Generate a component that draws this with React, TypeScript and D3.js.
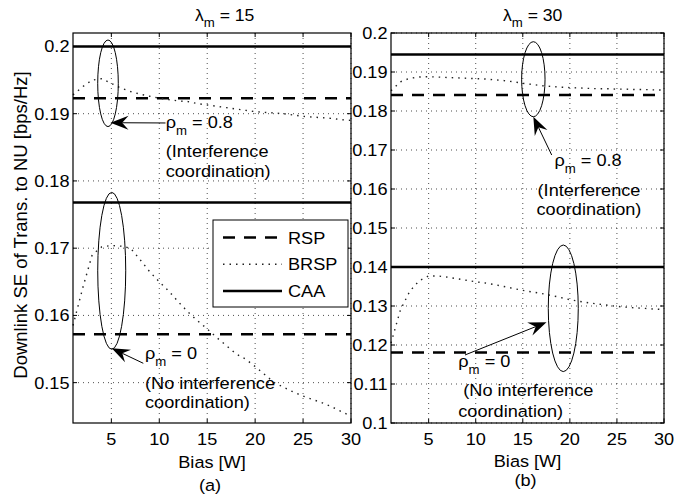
import React from 'react';
import * as d3 from 'd3';

const FONT = "'Liberation Sans', Arial, Helvetica, sans-serif";
// glyphs are drawn slightly wide, as in the printed figure
const SX = 1.1;
const FS = 16.5;

// Bias values [W] on the x axis
const bias = [1, 2, 3, 4, 5, 6, 7, 8, 9, 10, 11, 12, 13, 14, 15, 16, 17, 18, 19, 20, 21, 22, 23, 24, 25, 26, 27, 28, 29, 30];

// (a) lambda_m = 15 : BRSP with interference coordination (rho_m = 0.8)
const brspA_coord = [0.1928, 0.1940, 0.1950, 0.1952, 0.1945, 0.1938, 0.1933, 0.1929, 0.1926, 0.1923,
  0.1921, 0.1919, 0.1918, 0.1915, 0.1913, 0.1911, 0.1909, 0.1907, 0.1905, 0.1903,
  0.1902, 0.1901, 0.1900, 0.1898, 0.1896, 0.1895, 0.1894, 0.1893, 0.1891, 0.1890];
// (a) BRSP without interference coordination (rho_m = 0)
const brspA_none = [0.1585, 0.1640, 0.1690, 0.1702, 0.1704, 0.1703, 0.1700, 0.1683, 0.1665, 0.1650,
  0.1636, 0.1620, 0.1605, 0.1592, 0.1580, 0.1567, 0.1555, 0.1543, 0.1535, 0.1524,
  0.1512, 0.1500, 0.1493, 0.1486, 0.1480, 0.1475, 0.1470, 0.1464, 0.1457, 0.1450];
// (a) RSP and CAA levels: [rho_m = 0.8, rho_m = 0]
const rspA = [0.1923, 0.1572];
const caaA = [0.2, 0.1768];

// (b) lambda_m = 30
const brspB_coord = [0.1852, 0.1875, 0.1884, 0.1887, 0.1888, 0.1887, 0.1886, 0.1885, 0.1884, 0.1883,
  0.1882, 0.1880, 0.1878, 0.1875, 0.1871, 0.1868, 0.1865, 0.1863, 0.1861, 0.1860,
  0.1859, 0.1858, 0.1857, 0.1857, 0.1856, 0.1856, 0.1855, 0.1855, 0.1854, 0.1854];
const brspB_none = [0.1205, 0.1290, 0.1338, 0.1365, 0.1377, 0.1377, 0.1374, 0.1370, 0.1366, 0.1362,
  0.1359, 0.1355, 0.1350, 0.1345, 0.1340, 0.1336, 0.1332, 0.1327, 0.1322, 0.1316,
  0.1312, 0.1308, 0.1305, 0.1302, 0.1299, 0.1297, 0.1295, 0.1294, 0.1292, 0.1291];
const rspB = [0.1841, 0.1181];
const caaB = [0.1945, 0.14];

const xTicks = [5, 10, 15, 20, 25, 30];
const yTicksA = [0.15, 0.16, 0.17, 0.18, 0.19, 0.2];
const yTicksB = [0.1, 0.11, 0.12, 0.13, 0.14, 0.15, 0.16, 0.17, 0.18, 0.19, 0.2];
const legendItems = ['RSP', 'BRSP', 'CAA'];

const DASH = '12,9';
const DOT = '1.5,5';

type Anchor = 'start' | 'middle' | 'end';
type TextLine = { text: string; x: number; y: number; anchor: Anchor };
type Note = {
  ell: [number, number, number, number];
  arrow: [number, number, number, number];
  rho: { value: string; x: number; y: number; anchor: Anchor };
  lines: TextLine[];
};

const notesA: Note[] = [
  {
    ell: [4.651, 0.19452, 1.074, 0.00644],
    arrow: [10.65, 0.18862, 4.91, 0.18866],
    rho: { value: '0.8', x: 10.67, y: 0.18783, anchor: 'start' },
    lines: [
      { text: '(Interference', x: 10.67, y: 0.1836, anchor: 'start' },
      { text: 'coordination)', x: 10.67, y: 0.18058, anchor: 'start' },
    ],
  },
  {
    ell: [5.04, 0.16663, 1.46, 0.01167],
    arrow: [8.333, 0.15288, 5.04, 0.15511],
    rho: { value: '0', x: 8.51, y: 0.15347, anchor: 'start' },
    lines: [
      { text: '(No interference', x: 8.51, y: 0.14901, anchor: 'start' },
      { text: 'coordination)', x: 8.51, y: 0.14619, anchor: 'start' },
    ],
  },
];

const notesB: Note[] = [
  {
    ell: [16.12, 0.18815, 1.243, 0.00962],
    arrow: [18.07, 0.16872, 16.12, 0.17854],
    rho: { value: '0.8', x: 21.93, y: 0.16577, anchor: 'middle' },
    lines: [
      { text: '(Interference', x: 22.03, y: 0.15833, anchor: 'middle' },
      { text: 'coordination)', x: 22.03, y: 0.15346, anchor: 'middle' },
    ],
  },
  {
    ell: [19.3, 0.12941, 1.593, 0.01623],
    arrow: [8.861, 0.11744, 17.52, 0.12582],
    rho: { value: '0', x: 8.149, y: 0.11436, anchor: 'start' },
    lines: [
      { text: '(No interference', x: 8.68, y: 0.10705, anchor: 'start' },
      { text: 'coordination)', x: 8.149, y: 0.10154, anchor: 'start' },
    ],
  },
];

const fmt = (v: number) => String(+v.toFixed(2));

function Txt({ x, y, anchor = 'start', size = FS, children }: { x: number; y: number; anchor?: Anchor; size?: number; children: React.ReactNode }) {
  return (
    <text
      transform={`translate(${x},${y}) scale(${SX},1)`}
      textAnchor={anchor}
      fontFamily={FONT}
      fontSize={size}
      fill="#000"
    >
      {children}
    </text>
  );
}

function SubLabel({ x, y, base, rest, anchor = 'start', size = FS, sub = 12, shift = 7 }: { x: number; y: number; base: string; rest: string; anchor?: Anchor; size?: number; sub?: number; shift?: number }) {
  return (
    <Txt x={x} y={y} anchor={anchor} size={size}>
      <tspan>{base}</tspan>
      <tspan dy={shift} fontSize={sub}>m</tspan>
      <tspan dy={-shift}>{rest}</tspan>
    </Txt>
  );
}

function arrowHead(x1: number, y1: number, x2: number, y2: number) {
  const dx = x2 - x1;
  const dy = y2 - y1;
  const len = Math.hypot(dx, dy);
  const ux = dx / len;
  const uy = dy / len;
  const nx = -uy;
  const ny = ux;
  const L = 18;
  const W = 7;
  const bx = x2 - L * ux;
  const by = y2 - L * uy;
  const mx = x2 - 0.65 * L * ux;
  const my = y2 - 0.65 * L * uy;
  return {
    path: `M${x2},${y2}L${bx + W * nx},${by + W * ny}L${mx},${my}L${bx - W * nx},${by - W * ny}Z`,
    mx,
    my,
  };
}

type PanelProps = {
  left: number;
  top: number;
  width: number;
  height: number;
  yDomain: [number, number];
  yTicks: number[];
  brsp: number[][];
  rsp: number[];
  caa: number[];
  lambda: string;
  titleX: number;
  notes: Note[];
  legend?: boolean;
  tag: string;
  tagY: number;
  xLabelY: number;
};

function Panel(p: PanelProps) {
  const x = d3.scaleLinear().domain([1, 30]).range([p.left, p.left + p.width]);
  const y = d3.scaleLinear().domain(p.yDomain).range([p.top + p.height, p.top]);
  const line = d3
    .line<number>()
    .x((_, i) => x(bias[i]))
    .y((d) => y(d));
  const right = p.left + p.width;
  const bottom = p.top + p.height;
  const tickLen = 4;
  const x0 = x(bias[0]);
  const x1 = x(bias[bias.length - 1]);
  const mid = (p.left + right) / 2;

  return (
    <g>
      <rect x={p.left} y={p.top} width={p.width} height={p.height} fill="#fff" />
      {/* dotted grid */}
      <g stroke="#000" strokeWidth={0.7} strokeDasharray="1,4">
        {xTicks.map((t) => (
          <line key={'gx' + t} x1={x(t)} x2={x(t)} y1={p.top} y2={bottom} />
        ))}
        {p.yTicks.map((t) => (
          <line key={'gy' + t} x1={p.left} x2={right} y1={y(t)} y2={y(t)} />
        ))}
      </g>
      {/* CAA and RSP levels */}
      {p.caa.map((v, i) => (
        <line key={'caa' + i} x1={x0} x2={x1} y1={y(v)} y2={y(v)} stroke="#000" strokeWidth={2.5} />
      ))}
      {p.rsp.map((v, i) => (
        <line key={'rsp' + i} x1={x0} x2={x1} y1={y(v)} y2={y(v)} stroke="#000" strokeWidth={2.5} strokeDasharray={DASH} />
      ))}
      {/* BRSP curves */}
      {p.brsp.map((s, i) => (
        <path key={'brsp' + i} d={line(s) || ''} fill="none" stroke="#222" strokeWidth={1.4} strokeDasharray={DOT} />
      ))}
      {/* axes box and ticks */}
      <rect x={p.left} y={p.top} width={p.width} height={p.height} fill="none" stroke="#000" strokeWidth={1.2} />
      <g stroke="#000" strokeWidth={1}>
        {xTicks.map((t) => (
          <g key={'tx' + t}>
            <line x1={x(t)} x2={x(t)} y1={bottom} y2={bottom - tickLen} />
            <line x1={x(t)} x2={x(t)} y1={p.top} y2={p.top + tickLen} />
          </g>
        ))}
        {p.yTicks.map((t) => (
          <g key={'ty' + t}>
            <line x1={p.left} x2={p.left + tickLen} y1={y(t)} y2={y(t)} />
            <line x1={right} x2={right - tickLen} y1={y(t)} y2={y(t)} />
          </g>
        ))}
      </g>
      {xTicks.map((t) => (
        <Txt key={'lx' + t} x={x(t)} y={bottom + 22} anchor="middle">
          {t}
        </Txt>
      ))}
      {p.yTicks.map((t) => (
        <Txt key={'ly' + t} x={p.left - 3.5} y={y(t) + 6} anchor="end">
          {fmt(t)}
        </Txt>
      ))}
      <Txt x={mid} y={p.xLabelY} anchor="middle">
        Bias [W]
      </Txt>
      <Txt x={mid - 2} y={p.tagY} anchor="middle">
        {p.tag}
      </Txt>
      <SubLabel x={p.titleX} y={21} base="λ" rest={` = ${p.lambda}`} size={16} sub={12} shift={6} />
      {/* annotations */}
      {p.notes.map((n, i) => {
        const [ax1, ay1, ax2, ay2] = [x(n.arrow[0]), y(n.arrow[1]), x(n.arrow[2]), y(n.arrow[3])];
        const head = arrowHead(ax1, ay1, ax2, ay2);
        const cx = x(n.ell[0]);
        const cy = y(n.ell[1]);
        const rx = x(n.ell[0] + n.ell[2]) - cx;
        const ry = cy - y(n.ell[1] + n.ell[3]);
        return (
          <g key={'note' + i}>
            <ellipse cx={cx} cy={cy} rx={rx} ry={ry} fill="none" stroke="#000" strokeWidth={1} />
            <line x1={ax1} y1={ay1} x2={head.mx} y2={head.my} stroke="#000" strokeWidth={1} />
            <path d={head.path} fill="#000" />
            <SubLabel x={x(n.rho.x)} y={y(n.rho.y)} anchor={n.rho.anchor} base="ρ" rest={` = ${n.rho.value}`} />
            {n.lines.map((l, j) => (
              <Txt key={j} x={x(l.x)} y={y(l.y)} anchor={l.anchor}>
                {l.text}
              </Txt>
            ))}
          </g>
        );
      })}
      {p.legend && (
        <g>
          <rect x={p.left + 140} y={220} width={135} height={87} fill="#fff" stroke="#000" strokeWidth={1} />
          {legendItems.map((name, i) => {
            const ly = 237.5 + i * 26.8;
            const dash = name === 'RSP' ? DASH : name === 'BRSP' ? DOT : undefined;
            return (
              <g key={name}>
                <line
                  x1={p.left + 150}
                  x2={p.left + 209}
                  y1={ly}
                  y2={ly}
                  stroke={name === 'BRSP' ? '#222' : '#000'}
                  strokeWidth={name === 'BRSP' ? 1.4 : 2.5}
                  strokeDasharray={dash}
                />
                <Txt x={p.left + 215} y={ly + 6}>
                  {name}
                </Txt>
              </g>
            );
          })}
        </g>
      )}
    </g>
  );
}

export default function App() {
  return (
    <svg
      width={677}
      height={500}
      viewBox="0 0 677 500"
      style={{ position: 'absolute', left: 0, top: 0, background: '#fff' }}
    >
      <rect width={677} height={500} fill="#fff" />
      <Panel
        left={391}
        top={33}
        width={273}
        height={390}
        yDomain={[0.1, 0.2]}
        yTicks={yTicksB}
        brsp={[brspB_coord, brspB_none]}
        rsp={rspB}
        caa={caaB}
        lambda="30"
        titleX={503}
        notes={notesB}
        tag="(b)"
        tagY={486}
        xLabelY={467}
      />
      <Panel
        left={73}
        top={33}
        width={278}
        height={390}
        yDomain={[0.144, 0.202]}
        yTicks={yTicksA}
        brsp={[brspA_coord, brspA_none]}
        rsp={rspA}
        caa={caaA}
        lambda="15"
        titleX={195}
        notes={notesA}
        legend
        tag="(a)"
        tagY={491}
        xLabelY={468}
      />
      <text
        transform="translate(26.5,225) rotate(-90)"
        textAnchor="middle"
        fontFamily={FONT}
        fontSize={18.5}
      >
        Downlink SE of Trans. to NU [bps/Hz]
      </text>
    </svg>
  );
}
